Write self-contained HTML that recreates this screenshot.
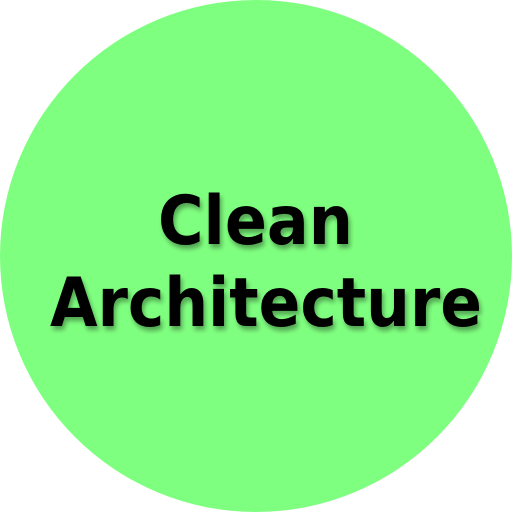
<!DOCTYPE html>
<html><head><style>
html,body{margin:0;padding:0;background:#fff;width:512px;height:512px;overflow:hidden}
</style></head><body>
<svg width="512" height="512" viewBox="0 0 512 512" xmlns="http://www.w3.org/2000/svg">
<defs><filter id="s" x="-10%" y="-20%" width="120%" height="140%"><feGaussianBlur in="SourceAlpha" stdDeviation="2.5"/><feOffset dx="2" dy="4"/><feComponentTransfer><feFuncA type="linear" slope="0.35"/></feComponentTransfer><feMerge><feMergeNode/><feMergeNode in="SourceGraphic"/></feMerge></filter></defs>
<circle cx="256" cy="256" r="256" fill="#7fff7f"/>
<g filter="url(#s)" font-family="'DejaVu Sans','Liberation Sans',sans-serif" font-weight="bold" font-size="68" fill="#000">
<text x="158" y="244" textLength="195" lengthAdjust="spacingAndGlyphs">Clean</text>
<text x="50" y="326" textLength="432" lengthAdjust="spacingAndGlyphs">Architecture</text>
</g>
</svg>
</body></html>
